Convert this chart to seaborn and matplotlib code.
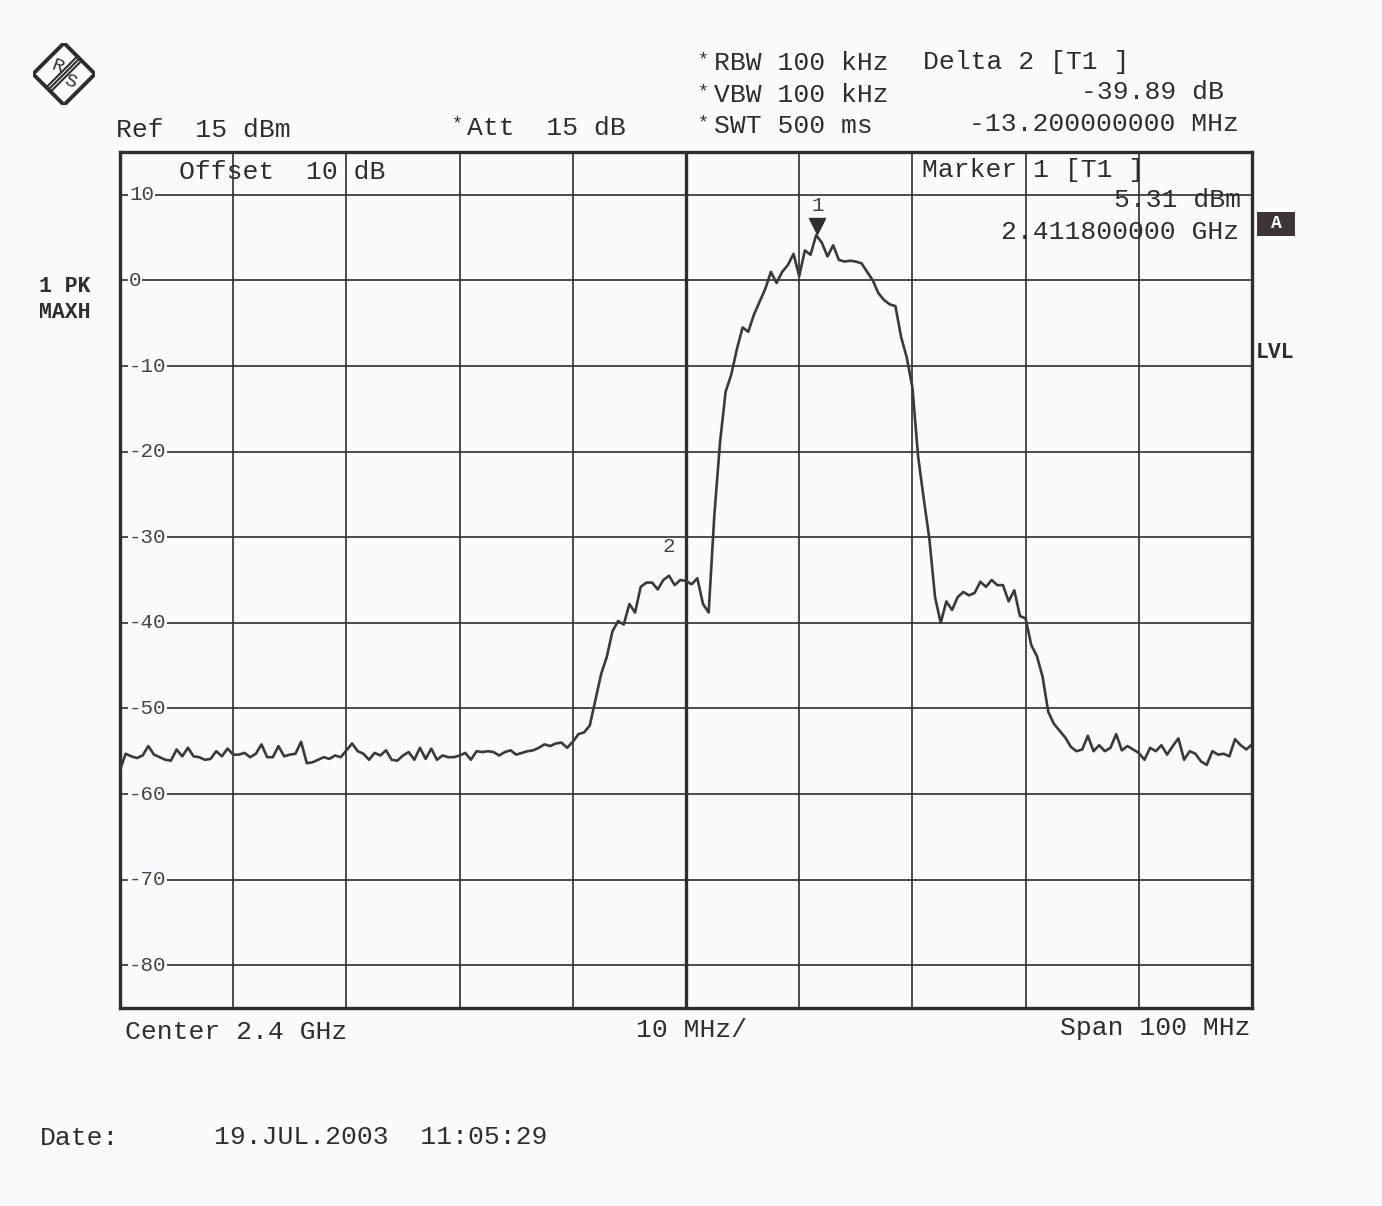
import numpy as np
import matplotlib
matplotlib.use("Agg")
import matplotlib.pyplot as plt
from matplotlib.patches import Polygon, Rectangle
import seaborn as sns

# sweep: center 2.4 GHz, span 100 MHz -> offset in MHz
freq_offset = np.arange(-50, 50.01, 0.5)

# trace 1 (PK / MAXH), dBm
level_dbm = [
    -57.2, -55.3, -55.6, -55.8, -55.5, -54.4, -55.4, -55.7, -56.0, -56.1,
    -54.8, -55.6, -54.6, -55.6, -55.7, -56.0, -55.9, -55.0, -55.6, -54.7,
    -55.4, -55.4, -55.2, -55.7, -55.3, -54.2, -55.7, -55.7, -54.4, -55.6,
    -55.4, -55.3, -53.9, -56.4, -56.3, -56.0, -55.7, -55.9, -55.5, -55.7,
    -54.9, -54.1, -55.0, -55.3, -56.0, -55.2, -55.5, -54.9, -56.0, -56.1,
    -55.5, -55.1, -56.0, -54.6, -55.9, -54.7, -56.0, -55.5, -55.7, -55.7,
    -55.5, -55.2, -56.0, -55.0, -55.1, -55.0, -55.1, -55.5, -55.1, -54.9,
    -55.4, -55.2, -55.0, -54.9, -54.6, -54.2, -54.4, -54.1, -54.0, -54.6,
    -53.9, -53.0, -52.8, -52.0, -49.0, -46.0, -44.0, -41.0, -39.8, -40.2,
    -37.8, -38.8, -35.8, -35.3, -35.3, -36.1, -35.0, -34.5, -35.6, -35.0,
    -35.1, -35.5, -34.8, -37.8, -38.8, -27.5, -19.0, -13.0, -11.0, -8.0,
    -5.5, -6.0, -4.0, -2.5, -1.0, 1.0, -0.3, 1.0, 1.8, 3.1,
    0.5, 3.5, 3.0, 5.3, 4.4, 2.8, 4.1, 2.4, 2.2, 2.3,
    2.2, 2.0, 1.0, 0.0, -1.5, -2.3, -2.8, -3.0, -6.6, -9.0,
    -12.5, -20.5, -25.5, -30.2, -37.0, -40.0, -37.5, -38.5, -37.0, -36.4,
    -36.8, -36.5, -35.2, -35.8, -35.0, -35.6, -35.6, -37.5, -36.2, -39.2,
    -39.5, -42.6, -43.9, -46.3, -50.4, -51.8, -52.6, -53.4, -54.5, -55.0,
    -54.8, -53.2, -55.0, -54.3, -55.0, -54.6, -53.0, -54.9, -54.4, -54.8,
    -55.2, -56.0, -54.6, -55.0, -54.3, -55.4, -54.4, -53.5, -56.0, -55.0,
    -55.3, -56.2, -56.6, -55.0, -55.4, -55.3, -55.6, -53.6, -54.3, -54.8,
    -54.2,
]

# markers: 1 = 2.4118 GHz / 5.31 dBm, 2 = delta -13.2 MHz / -39.89 dB
marker_names = ["1", "2"]
marker_freq = [11.8, 11.8 - 13.2]
marker_level = [5.31, 5.31 - 39.89]

y_ticks = [10, 0, -10, -20, -30, -40, -50, -60, -70, -80]

sns.set_style("white")
plt.rcParams['font.family'] = ['Liberation Mono', 'DejaVu Sans Mono']

ink = "#2e2e30"
paper = "#fbfbfd"
fs = 19

fig = plt.figure(figsize=(13.82, 12.06), dpi=100, facecolor=paper)
W, H = 1382.0, 1206.0

def fx(px):
    return px / W

def fy(py):
    return 1 - py / H

ax = fig.add_axes([fx(120), fy(1008), fx(1252) - fx(120), fy(152) - fy(1008)])
ax.set_facecolor(paper)

sns.lineplot(x=freq_offset, y=level_dbm, ax=ax, color="#3a3a3c", linewidth=1.9, zorder=4)

ax.set_xlim(-50, 50)
ax.set_ylim(-85, 15)
for xv in range(-40, 50, 10):
    ax.axvline(xv, color=ink, lw=2.4 if xv == 0 else 1.2, zorder=1)
for yv in y_ticks:
    ax.axhline(yv, color=ink, lw=1.2, zorder=1)
    ax.text(-49.2, yv, str(yv), ha="left", va="center", fontsize=15, color="#444",
            zorder=3, bbox=dict(facecolor=paper, edgecolor="none", pad=0.5))
ax.set_xticks([])
ax.set_yticks([])
ax.set_xlabel("")
ax.set_ylabel("")
for s in ax.spines.values():
    s.set_linewidth(2.4)
    s.set_color(ink)

# markers
ax.plot(marker_freq[0] - 0.2, marker_level[0] + 1.0, marker="v", markersize=11, color=ink, zorder=5)
ax.text(marker_freq[0] - 0.2, marker_level[0] + 3.4, marker_names[0], ha="center", va="center",
        fontsize=15, color="#444")
ax.text(marker_freq[1] - 0.1, marker_level[1] + 3.5, marker_names[1], ha="center", va="center",
        fontsize=15, color="#444")

# text inside the grid
fig.text(fx(179), fy(172), "Offset  10 dB", fontsize=fs, color=ink, va="center", ha="left")
fig.text(fx(922), fy(170), "Marker 1 [T1 ]", fontsize=fs, color=ink, va="center", ha="left")
fig.text(fx(1241), fy(200), "5.31 dBm", fontsize=fs, color=ink, va="center", ha="right")
fig.text(fx(1239), fy(232), "2.411800000 GHz", fontsize=fs, color=ink, va="center", ha="right")

# header
fig.text(fx(116), fy(130), "Ref  15 dBm", fontsize=fs, color=ink, va="center", ha="left")
fig.text(fx(452), fy(124), "*", fontsize=13, color=ink, va="center", ha="left")
fig.text(fx(467), fy(128), "Att  15 dB", fontsize=fs, color=ink, va="center", ha="left")
for py, txt in [(63, "RBW 100 kHz"), (95, "VBW 100 kHz"), (126, "SWT 500 ms")]:
    fig.text(fx(698), fy(py - 3), "*", fontsize=13, color=ink, va="center", ha="left")
    fig.text(fx(714), fy(py), txt, fontsize=fs, color=ink, va="center", ha="left")
fig.text(fx(923), fy(62), "Delta 2 [T1 ]", fontsize=fs, color=ink, va="center", ha="left")
fig.text(fx(1224), fy(92), "-39.89 dB", fontsize=fs, color=ink, va="center", ha="right")
fig.text(fx(1239), fy(124), "-13.200000000 MHz", fontsize=fs, color=ink, va="center", ha="right")

# side labels
fig.text(fx(39), fy(287), "1 PK", fontsize=15.5, color=ink, va="center", ha="left", weight="bold")
fig.text(fx(39), fy(313), "MAXH", fontsize=15.5, color=ink, va="center", ha="left", weight="bold")
fig.text(fx(1256), fy(353), "LVL", fontsize=15.5, color=ink, va="center", ha="left", weight="bold")
fig.patches.append(Rectangle((fx(1257), fy(236)), fx(38), fy(212) - fy(236),
                             transform=fig.transFigure, facecolor="#3c3537", edgecolor="none"))
fig.text(fx(1276), fy(223), "A", fontsize=13, color="white", va="center", ha="center", weight="bold")

# footer
fig.text(fx(125), fy(1032), "Center 2.4 GHz", fontsize=fs, color=ink, va="center", ha="left")
fig.text(fx(636), fy(1030), "10 MHz/", fontsize=fs, color=ink, va="center", ha="left")
fig.text(fx(1250), fy(1028), "Span 100 MHz", fontsize=fs, color=ink, va="center", ha="right")
fig.text(fx(40), fy(1138), "Date:", fontsize=fs, color=ink, va="center", ha="left")
fig.text(fx(214), fy(1137), "19.JUL.2003  11:05:29", fontsize=fs, color=ink, va="center", ha="left")

# R&S logo
lax = fig.add_axes([fx(33), fy(105), fx(62), fy(43) - fy(105)])
lax.set_xlim(-1, 1)
lax.set_ylim(-1, 1)
lax.axis("off")
lax.add_patch(Polygon([(0, 1), (1, 0), (0, -1), (-1, 0)], closed=True, fill=False,
                      edgecolor=ink, lw=2.8))
for off in (-0.07, 0, 0.07):
    lax.plot([-0.5 + off, 0.5 + off], [-0.5 - off, 0.5 - off], color=ink, lw=1.5)
lax.text(-0.2, 0.22, "R", fontsize=14, color=ink, ha="center", va="center", rotation=-20)
lax.text(0.2, -0.24, "S", fontsize=14, color=ink, ha="center", va="center", rotation=-20)

fig.savefig("out.png", dpi=100, facecolor=paper)
